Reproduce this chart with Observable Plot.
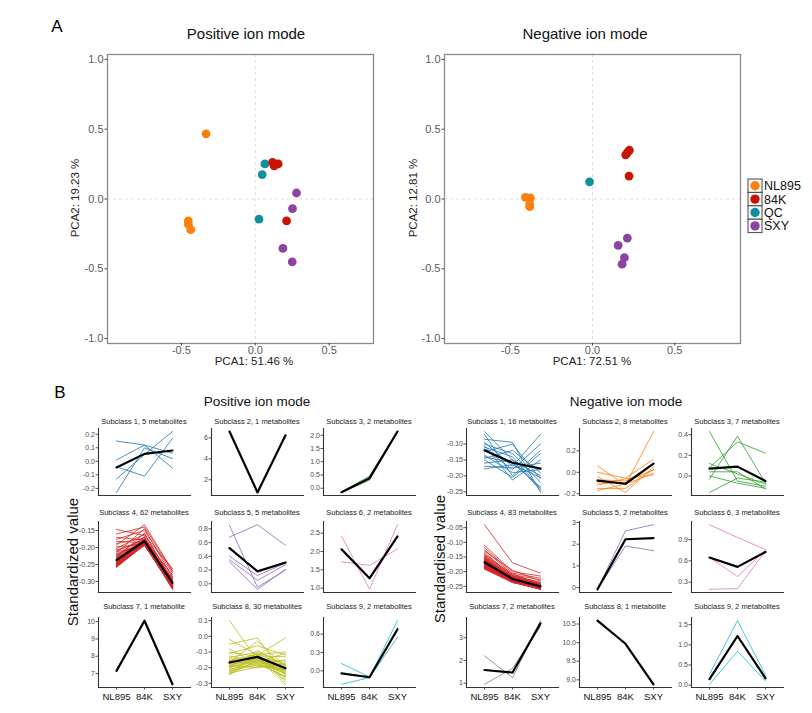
<!DOCTYPE html>
<html>
<head>
<meta charset="utf-8">
<script src="https://cdn.jsdelivr.net/npm/d3@7"></script>
<script src="https://cdn.jsdelivr.net/npm/@observablehq/plot@0.6"></script>
<style>
  body { margin: 0; background: #fff; font-family: "Liberation Sans", Arial, sans-serif; }
  #fig { position: relative; width: 812px; height: 713px; overflow: hidden; background: #fff; }
  #fig svg { position: absolute; overflow: visible; }
  .t { position: absolute; white-space: nowrap; line-height: 1; color: #111; }
</style>
</head>
<body>
<div id="fig"></div>
<script>
// ---------- Panel A: PCA score plots ----------
const sampleGroups = ["NL895", "84K", "QC", "SXY"];
const groupColors = ["#ff7f0e", "#c81400", "#10909c", "#8c44a0"];

// Positive ion mode scores
const posPC1 = [-0.333, -0.453, -0.453, -0.437, 0.065, 0.047, 0.025, 0.117, 0.128, 0.155, 0.212, 0.279, 0.252, 0.187, 0.250];
const posPC2 = [0.467, -0.156, -0.180, -0.220, 0.251, 0.175, -0.144, 0.263, 0.237, 0.251, -0.156, 0.043, -0.069, -0.354, -0.450];
const posGroup = ["NL895", "NL895", "NL895", "NL895", "QC", "QC", "QC", "84K", "84K", "84K", "84K", "SXY", "SXY", "SXY", "SXY"];

// Negative ion mode scores
const negPC1 = [-0.408, -0.378, -0.382, -0.382, -0.018, 0.224, 0.212, 0.202, 0.222, 0.212, 0.156, 0.194, 0.180];
const negPC2 = [0.012, 0.007, -0.036, -0.055, 0.123, 0.349, 0.332, 0.316, 0.164, -0.280, -0.332, -0.420, -0.467];
const negGroup = ["NL895", "NL895", "NL895", "NL895", "QC", "84K", "84K", "84K", "84K", "SXY", "SXY", "SXY", "SXY"];

const pcaTicks = ["-1.0", "-0.5", "0.0", "0.5", "1.0"];
const pcaXTicks = ["-0.5", "0.0", "0.5"];

// ---------- Panel B: subclass trend profiles ----------
const conditions = ["NL895", "84K", "SXY"];
const subclassColors = ["#1f77b4", "#ff7f0e", "#2ca02c", "#d62728", "#9467bd", "#e377c2", "#7f7f7f", "#bcbd22", "#17becf"];

const posTitles = ["Subclass 1, 5 metabolites", "Subclass 2, 1 metabolites", "Subclass 3, 2 metabolites",
  "Subclass 4, 62 metabolites", "Subclass 5, 5 metabolites", "Subclass 6, 2 metabolites",
  "Subclass 7, 1 metabolite", "Subclass 8, 30 metabolites", "Subclass 9, 2 metabolites"];
const negTitles = ["Subclass 1, 16 metabolites", "Subclass 2, 8 metabolites", "Subclass 3, 7 metabolites",
  "Subclass 4, 83 metabolites", "Subclass 5, 2 metabolites", "Subclass 6, 3 metabolites",
  "Subclass 7, 2 metabolites", "Subclass 8, 1 metabolite", "Subclass 9, 2 metabolites"];

// Each subclass: [NL895 values, 84K values, SXY values], one entry per metabolite
const pos1 = [[0.15, 0.01, -0.04, -0.13, -0.23], [0.12, 0.12, -0.11, 0.05, 0.10], [0.06, -0.05, 0.17, 0.22, 0.02]];
const pos2 = [[6.6], [0.79], [6.24]];
const pos3 = [[-0.16, -0.14], [0.30, 0.46], [2.14, 2.14]];
const pos4 = [
  [-0.147,-0.160,-0.170,-0.176,-0.182,-0.188,-0.193,-0.198,-0.203,-0.207,-0.210,-0.213,-0.216,-0.219,-0.221,-0.223,
   -0.225,-0.227,-0.229,-0.231,-0.232,-0.234,-0.235,-0.237,-0.238,-0.239,-0.240,-0.241,-0.242,-0.243,-0.244,-0.245,
   -0.246,-0.246,-0.247,-0.248,-0.248,-0.249,-0.249,-0.250,-0.250,-0.251,-0.251,-0.252,-0.252,-0.252,-0.253,-0.253,
   -0.253,-0.254,-0.254,-0.254,-0.255,-0.255,-0.255,-0.256,-0.256,-0.256,-0.257,-0.257,-0.258,-0.258],
  [-0.165,-0.140,-0.178,-0.150,-0.186,-0.172,-0.133,-0.190,-0.160,-0.183,-0.176,-0.192,-0.145,-0.188,-0.170,-0.185,
   -0.181,-0.194,-0.158,-0.187,-0.179,-0.191,-0.168,-0.184,-0.189,-0.175,-0.193,-0.182,-0.186,-0.177,-0.190,-0.180,
   -0.185,-0.192,-0.174,-0.188,-0.183,-0.191,-0.179,-0.186,-0.194,-0.182,-0.189,-0.184,-0.190,-0.187,-0.193,-0.181,
   -0.188,-0.185,-0.192,-0.183,-0.189,-0.186,-0.191,-0.184,-0.190,-0.187,-0.193,-0.188,-0.185,-0.192],
  [-0.262,-0.270,-0.280,-0.275,-0.290,-0.285,-0.268,-0.296,-0.300,-0.292,-0.305,-0.298,-0.288,-0.310,-0.302,-0.295,
   -0.308,-0.312,-0.299,-0.306,-0.315,-0.303,-0.309,-0.311,-0.304,-0.316,-0.307,-0.313,-0.301,-0.318,-0.310,-0.306,
   -0.314,-0.309,-0.317,-0.305,-0.312,-0.319,-0.308,-0.315,-0.311,-0.320,-0.307,-0.314,-0.316,-0.310,-0.318,-0.313,
   -0.321,-0.309,-0.317,-0.312,-0.319,-0.315,-0.322,-0.311,-0.318,-0.314,-0.320,-0.316,-0.323,-0.317]];
const pos5 = [[0.85, 0.68, 0.40, 0.32, 0.35], [-0.05, 0.86, 0.12, -0.08, 0.05], [0.20, 0.56, 0.30, 0.21, 0.28]];
const pos6 = [[2.42, 1.72], [0.97, 1.62], [2.73, 2.07]];
const pos7 = [[7.15], [10.06], [6.37]];
const pos8 = [
  [0.100,-0.020,-0.050,-0.080,-0.100,-0.110,-0.125,-0.135,-0.145,-0.150,-0.155,-0.160,-0.165,-0.170,-0.175,
   -0.180,-0.185,-0.190,-0.195,-0.200,-0.205,-0.210,-0.215,-0.220,-0.225,-0.230,-0.235,-0.240,-0.244,-0.190],
  [-0.150,-0.120,-0.010,-0.180,-0.130,-0.060,-0.165,-0.100,-0.140,-0.190,-0.115,-0.155,-0.030,-0.170,-0.125,
   -0.145,-0.200,-0.110,-0.160,-0.135,-0.090,-0.175,-0.140,-0.185,-0.120,-0.160,-0.195,-0.130,-0.150,-0.110],
  [-0.200,-0.010,-0.250,-0.150,-0.290,-0.120,-0.230,-0.180,-0.306,-0.210,-0.100,-0.240,-0.195,-0.260,-0.130,
   -0.220,-0.175,-0.270,-0.110,-0.235,-0.185,-0.255,-0.160,-0.215,-0.280,-0.205,-0.170,-0.245,-0.225,-0.190]];
const pos9 = [[0.12, -0.22], [-0.10, -0.11], [0.82, 0.55]];

const neg1 = [
  [-0.061,-0.070,-0.085,-0.095,-0.100,-0.105,-0.110,-0.115,-0.125,-0.135,-0.140,-0.145,-0.150,-0.160,-0.170,-0.178],
  [-0.150,-0.200,-0.095,-0.170,-0.130,-0.213,-0.140,-0.180,-0.100,-0.190,-0.160,-0.120,-0.205,-0.150,-0.175,-0.165],
  [-0.200,-0.120,-0.252,-0.070,-0.220,-0.150,-0.240,-0.100,-0.210,-0.180,-0.235,-0.190,-0.130,-0.245,-0.160,-0.205]];
const neg2 = [[0.060, 0.000, -0.040, -0.070, -0.100, -0.120, -0.150, -0.170],
  [-0.120, -0.054, -0.188, -0.080, -0.100, -0.060, -0.150, -0.110],
  [0.380, 0.120, 0.050, 0.020, 0.080, -0.024, 0.030, -0.010]];
const neg3 = [[0.43, -0.03, 0.08, 0.12, 0.04, 0.00, -0.16],
  [-0.05, 0.385, 0.33, 0.02, 0.04, -0.07, -0.02],
  [-0.10, -0.07, 0.22, -0.08, -0.126, -0.12, -0.06]];
const neg4 = [
  [-0.040,-0.110,-0.118,-0.125,-0.130,-0.135,-0.140,-0.143,-0.146,-0.148,-0.150,-0.152,-0.154,-0.155,-0.156,-0.157,
   -0.158,-0.159,-0.160,-0.161,-0.162,-0.163,-0.163,-0.164,-0.165,-0.165,-0.166,-0.166,-0.167,-0.167,-0.168,-0.168,
   -0.169,-0.169,-0.170,-0.170,-0.171,-0.171,-0.172,-0.172,-0.173,-0.173,-0.173,-0.174,-0.174,-0.175,-0.175,-0.175,
   -0.176,-0.176,-0.176,-0.177,-0.177,-0.177,-0.178,-0.178,-0.178,-0.179,-0.179,-0.179,-0.180,-0.180,-0.180,-0.181,
   -0.181,-0.181,-0.182,-0.182,-0.182,-0.183,-0.183,-0.183,-0.184,-0.184,-0.185,-0.185,-0.186,-0.186,-0.187,-0.188,
   -0.189,-0.190,-0.192],
  [-0.170,-0.200,-0.205,-0.210,-0.195,-0.215,-0.212,-0.218,-0.208,-0.220,-0.222,-0.214,-0.224,-0.217,-0.226,-0.219,
   -0.223,-0.228,-0.221,-0.225,-0.227,-0.216,-0.229,-0.224,-0.230,-0.222,-0.226,-0.231,-0.225,-0.228,-0.223,-0.232,
   -0.227,-0.229,-0.224,-0.233,-0.226,-0.230,-0.228,-0.234,-0.225,-0.231,-0.229,-0.227,-0.235,-0.230,-0.226,-0.232,
   -0.228,-0.233,-0.229,-0.236,-0.231,-0.227,-0.234,-0.230,-0.232,-0.228,-0.235,-0.231,-0.229,-0.233,-0.237,-0.230,
   -0.234,-0.232,-0.228,-0.236,-0.231,-0.233,-0.235,-0.229,-0.234,-0.232,-0.236,-0.230,-0.233,-0.235,-0.231,-0.234,
   -0.236,-0.232,-0.237],
  [-0.205,-0.215,-0.222,-0.228,-0.232,-0.236,-0.238,-0.240,-0.242,-0.243,-0.244,-0.245,-0.246,-0.246,-0.247,-0.247,
   -0.248,-0.248,-0.249,-0.249,-0.249,-0.250,-0.250,-0.250,-0.251,-0.251,-0.251,-0.252,-0.252,-0.252,-0.252,-0.253,
   -0.253,-0.253,-0.253,-0.254,-0.254,-0.254,-0.254,-0.255,-0.255,-0.255,-0.255,-0.256,-0.256,-0.256,-0.256,-0.256,
   -0.257,-0.257,-0.257,-0.257,-0.257,-0.258,-0.258,-0.258,-0.258,-0.258,-0.258,-0.259,-0.259,-0.259,-0.259,-0.259,
   -0.259,-0.260,-0.260,-0.260,-0.260,-0.260,-0.248,-0.245,-0.251,-0.253,-0.250,-0.247,-0.254,-0.249,-0.252,-0.246,
   -0.255,-0.243,-0.250]];
const neg5 = [[-0.08, -0.08], [2.62, 1.92], [2.9, 1.7]];
const neg6 = [[1.11, 0.65, 0.20], [0.93, 0.38, 0.21], [0.76, 0.75, 0.74]];
const neg7 = [[2.2, 0.95], [1.25, 1.65], [3.75, 3.5]];
const neg8 = [[10.59], [9.97], [8.88]];
const neg9 = [[0.27, 0.02], [1.6, 0.84], [0.25, 0.10]];

// Subclass centroid profiles (NL895, 84K, SXY)
const posMeans = [[-0.045, 0.055, 0.08], [6.6, 0.79, 6.24], [-0.15, 0.38, 2.14],
  [-0.237, -0.181, -0.304], [0.52, 0.18, 0.31], [2.06, 1.27, 2.41],
  [7.15, 10.06, 6.37], [-0.167, -0.131, -0.204], [-0.04, -0.105, 0.68]];
const negMeans = [[-0.12, -0.159, -0.177], [-0.078, -0.107, 0.08], [0.07, 0.09, -0.05],
  [-0.168, -0.225, -0.25], [-0.08, 2.23, 2.28], [0.647, 0.516, 0.726],
  [1.58, 1.47, 3.63], [10.59, 9.97, 8.88], [0.15, 1.22, 0.17]];

// y tick labels for each subclass panel
const posTicks = [["-0.2", "-0.1", "0.0", "0.1", "0.2"], ["2", "4", "6"], ["0.0", "0.5", "1.0", "1.5", "2.0"],
  ["-0.30", "-0.25", "-0.20", "-0.15"], ["0.0", "0.2", "0.4", "0.6", "0.8"], ["1.0", "1.5", "2.0", "2.5"],
  ["7", "8", "9", "10"], ["-0.3", "-0.2", "-0.1", "0.0", "0.1"], ["0.0", "0.3", "0.6"]];
const negTicks = [["-0.25", "-0.20", "-0.15", "-0.10"], ["-0.2", "0.0", "0.2"], ["0.0", "0.2", "0.4"],
  ["-0.25", "-0.20", "-0.15", "-0.10", "-0.05"], ["0", "1", "2", "3"], ["0.3", "0.6", "0.9"],
  ["1", "2", "3"], ["9.0", "9.5", "10.0", "10.5"], ["0.0", "0.5", "1.0", "1.5"]];

const posData = [pos1, pos2, pos3, pos4, pos5, pos6, pos7, pos8, pos9];
const negData = [neg1, neg2, neg3, neg4, neg5, neg6, neg7, neg8, neg9];

// ---------- layout helpers ----------
const fig = document.getElementById("fig");
const FONT = '"Liberation Sans", Arial, sans-serif';

function label(text, x, y, size, opts = {}) {
  const d = document.createElement("div");
  d.className = "t";
  d.textContent = text;
  d.style.left = x + "px";
  d.style.top = y + "px";
  d.style.fontSize = size + "px";
  if (opts.color) d.style.color = opts.color;
  d.style.transform = "translate(-50%,-50%)" + (opts.rotate ? " rotate(-90deg)" : "");
  fig.appendChild(d);
}

function place(svg, left, top) {
  svg.style.left = left + "px";
  svg.style.top = top + "px";
  fig.appendChild(svg);
}

// ---------- PCA panels ----------
function pcaPanel(pc1, pc2, grp, xDomain, frame) {
  const [x0, y0, x1, y1] = frame;
  const mL = 40, mR = 6, mT = 6, mB = 26;
  const rows = pc1.map((x, i) => ({x, y: pc2[i], g: grp[i]}));
  const yT = pcaTicks.map(Number), xT = pcaXTicks.map(Number);
  const svg = Plot.plot({
    width: mL + (x1 - x0) + mR, height: mT + (y1 - y0) + mB,
    marginLeft: mL, marginRight: mR, marginTop: mT, marginBottom: mB,
    style: {fontFamily: FONT, color: "#5a5a5a", background: "transparent", overflow: "visible"},
    x: {domain: xDomain, axis: null},
    y: {domain: [-1.035, 1.035], axis: null},
    color: {domain: sampleGroups, range: groupColors},
    marks: [
      Plot.ruleX([0], {stroke: "#d4d4d4", strokeDasharray: "3,3", strokeWidth: 0.8}),
      Plot.ruleY([0], {stroke: "#d4d4d4", strokeDasharray: "3,3", strokeWidth: 0.8}),
      Plot.frame({stroke: "#8a8a8a", strokeWidth: 1.3}),
      Plot.axisY({ticks: yT, tickFormat: d => pcaTicks[yT.indexOf(d)], tickSize: 2.5, tickPadding: 1.5,
        fontSize: 11, label: null, stroke: "#444"}),
      Plot.axisX({ticks: xT, tickFormat: d => pcaXTicks[xT.indexOf(d)], tickSize: 2.5, tickPadding: 0.5,
        fontSize: 11, label: null, stroke: "#444"}),
      Plot.dot(rows, {x: "x", y: "y", fill: "g", r: 4.4, stroke: "none"})
    ]
  });
  place(svg, x0 - mL, y0 - mT);
}

pcaPanel(posPC1, posPC2, posGroup, [-1.0, 0.8], [107, 54, 373, 343]);
pcaPanel(negPC1, negPC2, negGroup, [-0.9, 0.9], [444, 54, 740, 343]);

label("A", 57, 26, 17, {color: "#000"});
label("Positive ion mode", 246, 33, 15);
label("Negative ion mode", 585, 33, 15);
label("PCA1: 51.46 %", 254, 362, 11.5, {color: "#222"});
label("PCA1: 72.51 %", 592, 362, 11.5, {color: "#222"});
label("PCA2: 19.23 %", 76, 198, 11.5, {color: "#222", rotate: true});
label("PCA2: 12.81 %", 414, 198, 11.5, {color: "#222", rotate: true});

// legend
{
  const key = 13.4, lx = 4, ly = 4;
  const svg = d3.create("svg").attr("width", 70).attr("height", 64);
  const g = svg.selectAll("g").data(sampleGroups).join("g")
    .attr("transform", (d, i) => `translate(${lx},${ly + i * key})`);
  g.append("rect").attr("width", 14).attr("height", key).attr("fill", "#fff")
    .attr("stroke", "#444").attr("stroke-width", 1);
  g.append("circle").attr("cx", 7).attr("cy", key / 2).attr("r", 4.7)
    .attr("fill", (d, i) => groupColors[i]);
  g.append("text").attr("x", 16).attr("y", key / 2).attr("dy", "0.36em")
    .attr("font-size", 12.5).attr("font-family", FONT).attr("fill", "#111").text(d => d);
  place(svg.node(), 744, 174.5);
}

// ---------- subclass trend panels ----------
const colX = {pos: [98, 211, 323], neg: [466, 579, 691]};
const rowY = [[428, 495], [521, 592], [617, 687]];
const titleY = [422, 513, 607];

function trendPanel(cols, mean, ticks, color, title, left, row) {
  const [top, bottom] = rowY[row];
  const h = bottom - top, W = 92;
  const bottomRow = row === 2;
  const mL = 30, mR = 6, mT = 4, mB = bottomRow ? 24 : 4;
  const lines = [];
  cols[0].forEach((_, i) => conditions.forEach((c, j) => lines.push({id: i, c, v: cols[j][i]})));
  const centroid = conditions.map((c, j) => ({c, v: mean[j]}));
  const [lo, hi] = d3.extent(lines.map(d => d.v).concat(mean));
  const pad = (hi - lo) * 0.05;
  const tv = ticks.map(Number);
  const svg = Plot.plot({
    width: mL + W + mR, height: mT + h + mB,
    marginLeft: mL, marginRight: mR, marginTop: mT, marginBottom: mB,
    style: {fontFamily: FONT, color: "#4d4d4d", background: "transparent", overflow: "visible"},
    x: {type: "point", domain: conditions, padding: 0.6, axis: null},
    y: {domain: [lo - pad, hi + pad], axis: null},
    marks: [
      Plot.axisY({ticks: tv, tickFormat: d => ticks[tv.indexOf(d)], tickSize: 2.5, tickPadding: 1,
        fontSize: 7, label: null, stroke: "#555"}),
      bottomRow ? Plot.axisX({tickSize: 2.5, tickPadding: 3, fontSize: 9.5, label: null,
        fill: "#111", stroke: "#555"}) : null,
      Plot.frame({anchor: "left", stroke: "#333", strokeWidth: 1.1}),
      Plot.frame({anchor: "bottom", stroke: "#333", strokeWidth: 1.1}),
      Plot.lineY(lines, {x: "c", y: "v", z: "id", stroke: color, strokeWidth: 0.9, strokeOpacity: 0.9}),
      Plot.lineY(centroid, {x: "c", y: "v", stroke: "#000", strokeWidth: 2.2})
    ]
  });
  place(svg, left - mL, top - mT);
  label(title, left + W / 2, titleY[row], 7.5, {color: "#222"});
}

posData.forEach((cols, k) => trendPanel(cols, posMeans[k], posTicks[k], subclassColors[k], posTitles[k],
  colX.pos[k % 3], Math.floor(k / 3)));
negData.forEach((cols, k) => trendPanel(cols, negMeans[k], negTicks[k], subclassColors[k], negTitles[k],
  colX.neg[k % 3], Math.floor(k / 3)));

label("B", 60, 392, 17, {color: "#000"});
label("Positive ion mode", 257, 402, 13.5);
label("Negative ion mode", 626, 402, 13.5);
label("Standardized value", 72, 562, 15, {rotate: true});
label("Standardised value", 439, 559, 15, {rotate: true});
</script>
</body>
</html>
